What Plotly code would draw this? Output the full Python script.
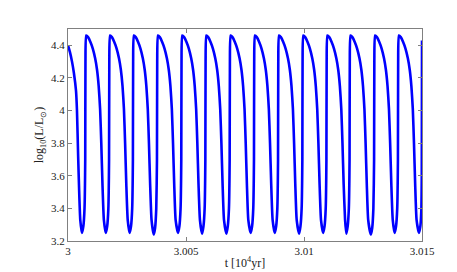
import plotly.graph_objects as go

# time axis in units of 10^4 yr
t = [
    3.00000, 3.00008, 3.00017, 3.00025, 3.00034, 3.00038, 3.00043, 3.00047, 3.00052,
    3.00059, 3.00065, 3.00070, 3.00073, 3.00074, 3.00077, 3.00085, 3.00095, 3.00105, 3.00115, 3.00123, 3.00130, 3.00136, 3.00141, 3.00146, 3.00152,
    3.00160, 3.00166, 3.00171, 3.00174, 3.00175, 3.00178, 3.00186, 3.00196, 3.00206, 3.00216, 3.00224, 3.00231, 3.00237, 3.00242, 3.00247, 3.00253,
    3.00261, 3.00267, 3.00272, 3.00275, 3.00276, 3.00279, 3.00287, 3.00297, 3.00307, 3.00317, 3.00325, 3.00332, 3.00338, 3.00343, 3.00348, 3.00354,
    3.00363, 3.00369, 3.00374, 3.00377, 3.00378, 3.00381, 3.00389, 3.00399, 3.00409, 3.00419, 3.00427, 3.00434, 3.00440, 3.00445, 3.00450, 3.00456,
    3.00466, 3.00472, 3.00477, 3.00480, 3.00481, 3.00484, 3.00492, 3.00502, 3.00512, 3.00522, 3.00530, 3.00537, 3.00543, 3.00548, 3.00553, 3.00559,
    3.00568, 3.00574, 3.00579, 3.00582, 3.00583, 3.00586, 3.00594, 3.00604, 3.00614, 3.00624, 3.00632, 3.00639, 3.00645, 3.00650, 3.00655, 3.00661,
    3.00671, 3.00677, 3.00682, 3.00685, 3.00686, 3.00689, 3.00697, 3.00707, 3.00717, 3.00727, 3.00735, 3.00742, 3.00748, 3.00753, 3.00758, 3.00764,
    3.00774, 3.00780, 3.00785, 3.00788, 3.00789, 3.00792, 3.00800, 3.00810, 3.00820, 3.00830, 3.00838, 3.00845, 3.00851, 3.00856, 3.00861, 3.00867,
    3.00876, 3.00882, 3.00887, 3.00890, 3.00891, 3.00894, 3.00902, 3.00912, 3.00922, 3.00932, 3.00940, 3.00947, 3.00953, 3.00958, 3.00963, 3.00969,
    3.00979, 3.00985, 3.00990, 3.00993, 3.00994, 3.00997, 3.01005, 3.01015, 3.01025, 3.01035, 3.01043, 3.01050, 3.01056, 3.01061, 3.01066, 3.01072,
    3.01081, 3.01087, 3.01092, 3.01095, 3.01096, 3.01099, 3.01107, 3.01117, 3.01127, 3.01137, 3.01145, 3.01152, 3.01158, 3.01163, 3.01168, 3.01174,
    3.01179, 3.01185, 3.01190, 3.01193, 3.01194, 3.01197, 3.01205, 3.01215, 3.01225, 3.01235, 3.01243, 3.01250, 3.01256, 3.01261, 3.01266, 3.01272,
    3.01283, 3.01289, 3.01294, 3.01297, 3.01298, 3.01301, 3.01309, 3.01319, 3.01329, 3.01339, 3.01347, 3.01354, 3.01360, 3.01365, 3.01370, 3.01376,
    3.01384, 3.01390, 3.01395, 3.01398, 3.01399, 3.01402, 3.01410, 3.01420, 3.01430, 3.01440, 3.01448, 3.01455, 3.01461, 3.01466, 3.01471, 3.01477,
    3.01487, 3.01493, 3.01497, 3.01499, 3.01500,
]

# log10(L/Lsun)
logL = [
    4.40, 4.36, 4.30, 4.23, 4.12, 4.00, 3.72, 3.52, 3.33,
    3.25, 3.29, 3.40, 3.70, 4.30, 4.46, 4.45, 4.42, 4.38, 4.32, 4.25, 4.15, 4.01, 3.80, 3.55, 3.33,
    3.25, 3.29, 3.40, 3.70, 4.30, 4.46, 4.45, 4.42, 4.38, 4.32, 4.25, 4.15, 4.01, 3.80, 3.55, 3.33,
    3.25, 3.29, 3.40, 3.70, 4.30, 4.46, 4.45, 4.42, 4.38, 4.32, 4.25, 4.15, 4.01, 3.80, 3.55, 3.33,
    3.24, 3.28, 3.40, 3.70, 4.30, 4.46, 4.45, 4.42, 4.38, 4.32, 4.25, 4.15, 4.01, 3.80, 3.55, 3.33,
    3.25, 3.29, 3.40, 3.70, 4.30, 4.46, 4.45, 4.42, 4.38, 4.32, 4.25, 4.15, 4.01, 3.80, 3.55, 3.33,
    3.245, 3.29, 3.40, 3.70, 4.30, 4.46, 4.45, 4.42, 4.38, 4.32, 4.25, 4.15, 4.01, 3.80, 3.55, 3.33,
    3.245, 3.29, 3.40, 3.70, 4.30, 4.46, 4.45, 4.42, 4.38, 4.32, 4.25, 4.15, 4.01, 3.80, 3.55, 3.33,
    3.25, 3.29, 3.40, 3.70, 4.30, 4.46, 4.45, 4.42, 4.38, 4.32, 4.25, 4.15, 4.01, 3.80, 3.55, 3.33,
    3.25, 3.29, 3.40, 3.70, 4.30, 4.46, 4.45, 4.42, 4.38, 4.32, 4.25, 4.15, 4.01, 3.80, 3.55, 3.33,
    3.245, 3.29, 3.40, 3.70, 4.30, 4.46, 4.45, 4.42, 4.38, 4.32, 4.25, 4.15, 4.01, 3.80, 3.55, 3.33,
    3.25, 3.29, 3.40, 3.70, 4.30, 4.46, 4.45, 4.42, 4.38, 4.32, 4.25, 4.15, 4.01, 3.80, 3.55, 3.33,
    3.245, 3.29, 3.40, 3.70, 4.30, 4.46, 4.45, 4.42, 4.38, 4.32, 4.25, 4.15, 4.01, 3.80, 3.55, 3.33,
    3.24, 3.28, 3.40, 3.70, 4.30, 4.46, 4.45, 4.42, 4.38, 4.32, 4.25, 4.15, 4.01, 3.80, 3.55, 3.33,
    3.25, 3.29, 3.40, 3.70, 4.30, 4.46, 4.45, 4.42, 4.38, 4.32, 4.25, 4.15, 4.01, 3.80, 3.55, 3.33,
    3.25, 3.29, 3.38, 3.60, 4.43,
]

x_ticks = [3, 3.005, 3.01, 3.015]
x_ticklabels = ["3", "3.005", "3.01", "3.015"]
y_ticks = [3.2, 3.4, 3.6, 3.8, 4.0, 4.2, 4.4]
y_ticklabels = ["3.2", "3.4", "3.6", "3.8", "4", "4.2", "4.4"]

fig = go.Figure(go.Scatter(
    x=t, y=logL, mode="lines",
    line=dict(color="#0000ff", width=2.6, shape="spline", smoothing=0.5),
    showlegend=False,
))

axis_style = dict(
    showgrid=False, zeroline=False,
    showline=True, linecolor="#808080", linewidth=1, mirror="ticks",
    ticks="inside", ticklen=4, tickcolor="#808080",
    tickfont=dict(family="Liberation Serif", size=11, color="#222222"),
)

fig.update_xaxes(
    range=[3, 3.015], tickvals=x_ticks, ticktext=x_ticklabels,
    title=dict(text="t [10<sup>4</sup>yr]", standoff=2,
               font=dict(family="Liberation Serif", size=12, color="#222222")),
    **axis_style,
)
fig.update_yaxes(
    range=[3.2, 4.5], tickvals=y_ticks, ticktext=y_ticklabels,
    title=dict(text="log<sub>10</sub>(L/L<sub>\u2299</sub>)", standoff=4,
               font=dict(family="Liberation Serif", size=12, color="#222222")),
    **axis_style,
)

fig.update_layout(
    width=457, height=272,
    margin=dict(l=60, r=43, t=21, b=31),
    paper_bgcolor="white", plot_bgcolor="white",
)

fig.write_html("out.html")
